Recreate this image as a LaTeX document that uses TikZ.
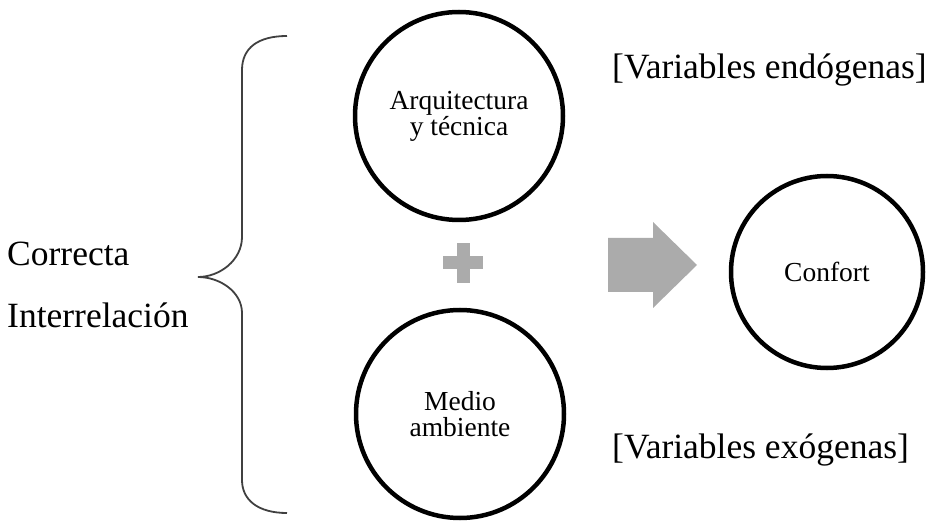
\documentclass[tikz,border=0pt]{standalone}
\usepackage{fontspec}
\setmainfont{Liberation Serif}
\usepackage{tikz}
\usetikzlibrary{positioning}

\begin{document}
\begin{tikzpicture}[x=1pt,y=-1pt,
  circ/.style={circle,draw,line width=4.5pt,minimum size=208pt,inner sep=0pt,
    align=center,font=\fontsize{27.5}{26}\selectfont},
  big/.style={font=\fontsize{35.5}{44}\selectfont,inner sep=0pt,anchor=west},
  signcol/.style={fill=black!33,draw=none}]
  \useasboundingbox (0,0) rectangle (935,529);
  \node[circ] (arq) at (459,116) {Arquitectura\\y técnica};
  \node[circ] (medio) at (460,414) {Medio\\ambiente};
  \node[circ,minimum size=192pt] (conf) at (827,272) {Confort};
  \node[big] (endo) at (612,70) {[Variables endógenas]};
  \node[big] (exo) at (612,450) {[Variables exógenas]};
  \node[big] (corr) at (7,254) {Correcta};
  \node[big] (inter) at (7,315) {Interrelación};
  % llave
  \draw[black!75,line width=1.8pt]
    (287,36) .. controls (258,36) and (242,48) .. (242,70) -- (242,237)
    .. controls (242,260) and (220,277) .. (198,277)
    .. controls (220,277) and (242,292) .. (242,313) -- (242,480)
    .. controls (242,500) and (258,513) .. (287,513);
  % signo mas y flecha
  \fill[signcol] (443,256.5) rectangle (483,269.5);
  \fill[signcol] (456.5,243) rectangle (469.5,283);
  \fill[signcol] (608,238) -- (653,238) -- (653,222) -- (697,265)
    -- (653,308) -- (653,292) -- (608,292) -- cycle;
\end{tikzpicture}
\end{document}
